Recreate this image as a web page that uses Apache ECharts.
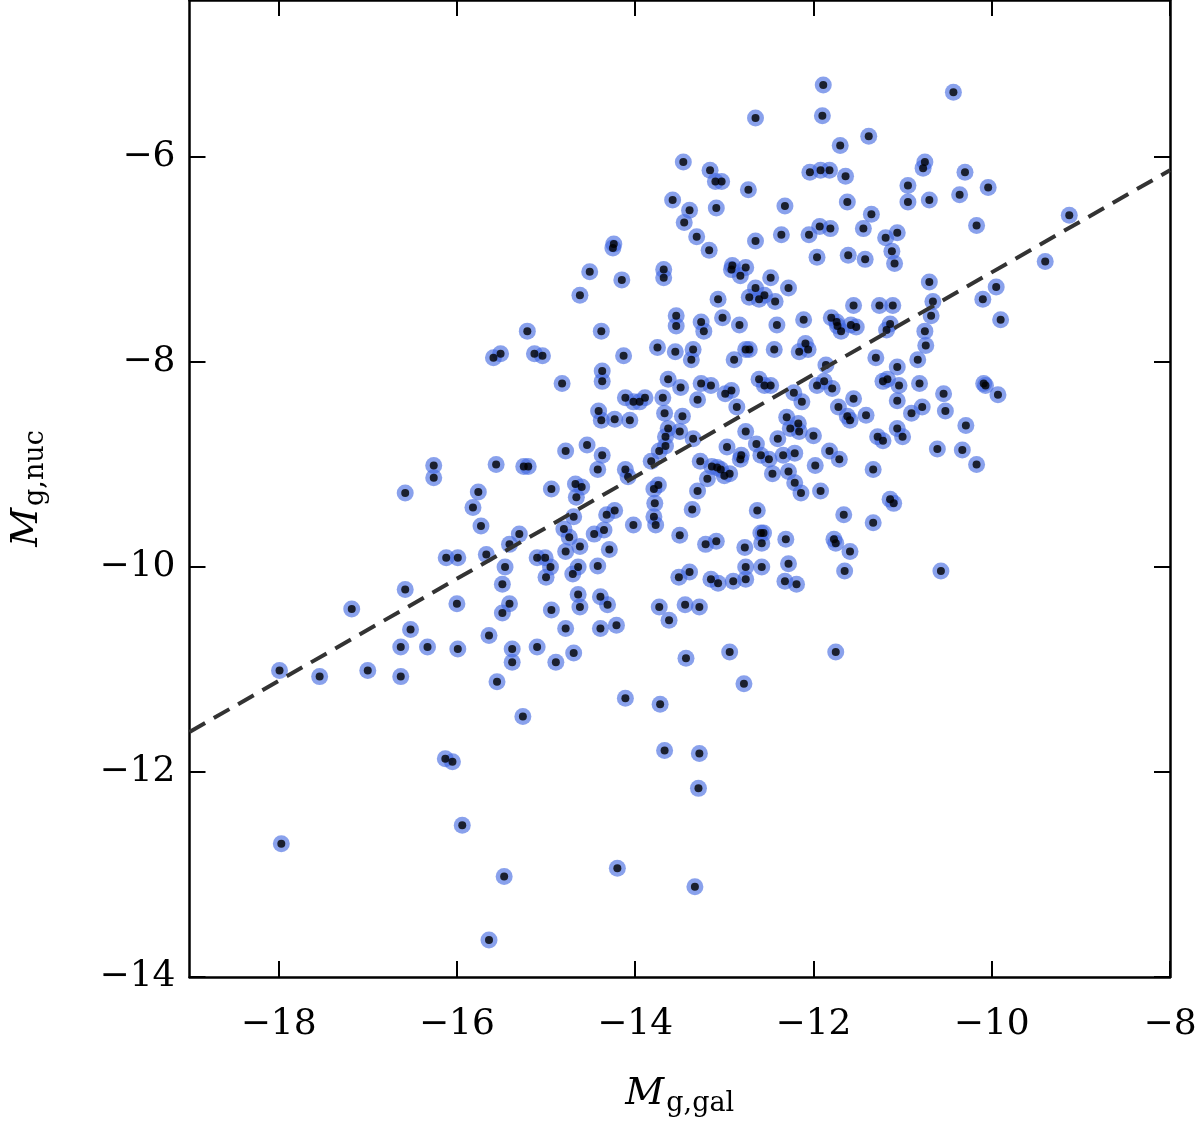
<!DOCTYPE html>
<html lang="en">
<head>
  <meta charset="UTF-8">
  <title>M_g,nuc vs M_g,gal</title>
  <script src="https://cdn.jsdelivr.net/npm/echarts@6/dist/echarts.min.js"></script>
  <style>
    html, body { margin: 0; padding: 0; background: #fff; }
    #chart { width: 1200px; height: 1122px; }
  </style>
</head>
<body>
  <div id="chart"></div>
  <script>
    // galaxy magnitude, nucleus magnitude
    var points = [
      [-17.97,-12.70],[-17.99,-11.01],[-17.54,-11.07],[-17.18,-10.41],[-17.0,-11.01],[-16.63,-11.07],
      [-16.63,-10.78],[-16.52,-10.61],[-16.58,-10.22],[-16.58,-9.28],[-16.33,-10.78],[-16.26,-9.01],
      [-16.26,-9.13],[-16.13,-11.87],[-16.05,-11.90],[-15.94,-12.52],[-16.12,-9.91],[-15.99,-9.91],
      [-16.0,-10.36],[-15.99,-10.80],[-15.64,-13.64],[-15.47,-13.02],[-15.82,-9.42],[-15.76,-9.27],
      [-15.73,-9.60],[-15.67,-9.88],[-15.64,-10.67],[-15.56,-9.0],[-15.55,-11.12],[-15.49,-10.45],
      [-15.49,-10.17],[-15.46,-10.0],[-15.41,-9.78],[-15.41,-10.36],[-15.38,-10.80],[-15.38,-10.93],
      [-15.59,-7.96],[-15.51,-7.92],[-15.26,-11.46],[-15.25,-9.02],[-15.2,-9.02],[-15.30,-9.68],
      [-15.1,-9.91],[-15.21,-7.70],[-15.13,-7.92],[-15.04,-7.94],[-15.1,-10.78],[-15.01,-9.91],
      [-15.0,-10.10],[-14.94,-9.24],[-14.95,-10.0],[-14.94,-10.42],[-14.89,-10.93],[-14.82,-8.21],
      [-14.8,-9.63],[-14.78,-8.87],[-14.74,-9.71],[-14.78,-10.6],[-14.69,-10.84],[-14.78,-9.85],
      [-14.70,-10.07],[-14.69,-9.51],[-14.66,-9.32],[-14.64,-10.0],[-14.64,-10.27],[-14.62,-10.39],
      [-14.6,-9.22],[-14.67,-9.19],[-14.62,-7.35],[-14.62,-9.80],[-14.54,-8.81],[-14.51,-7.12],
      [-14.46,-9.68],[-14.42,-9.05],[-14.41,-8.48],[-14.38,-7.70],[-14.37,-8.19],[-14.37,-8.09],
      [-14.42,-9.99],[-14.39,-10.29],[-14.39,-10.6],[-14.38,-8.57],[-14.37,-8.91],[-14.35,-9.64],
      [-14.32,-9.49],[-14.31,-10.37],[-14.29,-9.83],[-14.25,-6.89],[-14.24,-6.85],[-14.23,-9.45],
      [-14.23,-8.56],[-14.21,-10.57],[-14.2,-12.94],[-14.15,-7.2],[-14.13,-7.94],[-14.11,-8.35],
      [-14.11,-11.28],[-14.11,-9.05],[-14.08,-9.12],[-14.06,-8.57],[-14.02,-8.39],[-14.02,-9.59],
      [-13.95,-8.39],[-13.89,-8.35],[-13.82,-8.97],[-13.79,-9.24],[-13.78,-9.38],[-13.79,-9.51],
      [-13.77,-9.59],[-13.75,-7.86],[-13.74,-9.2],[-13.73,-8.87],[-13.73,-10.39],[-13.72,-11.34],
      [-13.69,-8.35],[-13.68,-7.18],[-13.68,-7.10],[-13.67,-11.79],[-13.67,-8.50],[-13.66,-8.73],
      [-13.66,-8.82],[-13.63,-8.65],[-13.63,-8.17],[-13.62,-10.52],[-13.58,-6.42],[-13.55,-7.90],
      [-13.54,-7.55],[-13.54,-7.65],[-13.51,-10.1],[-13.5,-8.68],[-13.5,-9.69],[-13.49,-8.25],
      [-13.47,-8.53],[-13.46,-6.05],[-13.45,-6.64],[-13.44,-10.37],[-13.43,-10.89],[-13.39,-10.05],
      [-13.39,-6.52],[-13.37,-7.98],[-13.36,-9.44],[-13.35,-7.88],[-13.35,-8.75],[-13.33,-13.12],
      [-13.31,-6.78],[-13.30,-9.26],[-13.30,-8.37],[-13.29,-12.16],[-13.28,-10.39],[-13.28,-11.82],
      [-13.27,-8.97],[-13.26,-8.21],[-13.26,-7.61],[-13.23,-7.70],[-13.21,-9.78],[-13.19,-9.14],
      [-13.17,-6.91],[-13.16,-6.13],[-13.15,-10.12],[-13.15,-8.23],[-13.14,-9.02],[-13.10,-6.24],
      [-13.09,-6.50],[-13.09,-9.75],[-13.08,-9.03],[-13.07,-10.16],[-13.07,-7.39],[-13.04,-9.05],
      [-13.03,-6.24],[-13.02,-7.57],[-13.0,-9.11],[-12.99,-8.31],[-12.97,-8.83],[-12.94,-9.09],
      [-12.94,-10.83],[-12.92,-8.28],[-12.92,-7.10],[-12.91,-7.06],[-12.90,-10.14],[-12.89,-7.98],
      [-12.86,-8.44],[-12.83,-7.64],[-12.82,-7.16],[-12.82,-8.95],[-12.81,-8.91],[-12.78,-11.14],
      [-12.77,-9.81],[-12.76,-10.0],[-12.76,-10.12],[-12.76,-7.08],[-12.76,-7.88],[-12.76,-8.68],
      [-12.73,-6.32],[-12.72,-7.37],[-12.72,-7.88],[-12.65,-6.82],[-12.65,-7.28],[-12.65,-5.62],
      [-12.64,-8.80],[-12.63,-9.45],[-12.61,-7.39],[-12.61,-8.17],[-12.59,-8.91],[-12.59,-9.67],
      [-12.58,-9.77],[-12.58,-10.0],[-12.56,-9.67],[-12.55,-7.35],[-12.55,-8.23],[-12.50,-8.95],
      [-12.48,-7.18],[-12.46,-9.09],[-12.48,-8.23],[-12.44,-7.88],[-12.43,-7.41],[-12.41,-7.64],
      [-12.40,-8.75],[-12.36,-6.76],[-12.34,-8.91],[-12.32,-6.48],[-12.32,-10.14],[-12.31,-9.73],
      [-12.30,-8.54],[-12.28,-7.28],[-12.28,-9.07],[-12.28,-9.97],[-12.26,-8.65],[-12.22,-8.30],
      [-12.21,-9.18],[-12.21,-8.89],[-12.19,-10.17],[-12.17,-8.60],[-12.16,-8.68],[-12.16,-7.90],
      [-12.14,-9.28],[-12.13,-8.39],[-12.11,-7.59],[-12.09,-7.82],[-12.06,-7.88],[-12.05,-6.76],
      [-12.04,-6.15],[-12.0,-8.72],[-11.98,-9.01],[-11.96,-6.98],[-11.96,-8.23],[-11.93,-6.68],
      [-11.92,-9.26],[-11.92,-6.13],[-11.90,-5.60],[-11.89,-5.30],[-11.88,-8.19],[-11.86,-8.03],
      [-11.82,-6.13],[-11.82,-8.87],[-11.81,-6.70],[-11.80,-7.57],[-11.79,-8.26],[-11.77,-9.73],
      [-11.75,-9.77],[-11.75,-10.83],[-11.74,-7.61],[-11.73,-7.65],[-11.72,-8.44],[-11.71,-8.95],
      [-11.70,-5.89],[-11.69,-7.70],[-11.66,-9.49],[-11.65,-10.04],[-11.64,-6.19],[-11.62,-8.53],
      [-11.62,-6.44],[-11.61,-6.96],[-11.59,-9.85],[-11.59,-8.57],[-11.58,-7.64],[-11.55,-8.36],
      [-11.55,-7.45],[-11.52,-7.66],[-11.44,-6.70],[-11.42,-7.0],[-11.41,-8.52],[-11.38,-5.80],
      [-11.35,-6.56],[-11.33,-9.57],[-11.33,-9.05],[-11.30,-7.96],[-11.28,-8.73],[-11.26,-7.45],
      [-11.22,-8.19],[-11.22,-8.77],[-11.19,-6.79],[-11.18,-7.69],[-11.17,-8.17],[-11.14,-7.63],
      [-11.14,-9.34],[-11.12,-6.92],[-11.11,-7.45],[-11.10,-9.38],[-11.09,-7.04],[-11.06,-6.74],
      [-11.06,-8.05],[-11.06,-8.38],[-11.06,-8.65],[-11.04,-8.23],[-11.0,-8.73],[-10.94,-6.44],
      [-10.94,-6.28],[-10.90,-8.50],[-10.83,-7.98],[-10.81,-8.21],[-10.78,-8.44],[-10.77,-6.11],
      [-10.75,-6.05],[-10.75,-7.70],[-10.74,-7.84],[-10.70,-6.42],[-10.70,-7.22],[-10.68,-7.55],
      [-10.66,-7.41],[-10.61,-8.85],[-10.57,-10.04],[-10.54,-8.31],[-10.52,-8.48],[-10.43,-5.37],
      [-10.36,-6.37],[-10.33,-8.86],[-10.30,-6.15],[-10.29,-8.62],[-10.17,-6.67],[-10.17,-9.00],
      [-10.10,-7.39],[-10.09,-8.21],[-10.07,-8.23],[-10.04,-6.30],[-9.95,-7.27],[-9.93,-8.32],
      [-9.90,-7.59],[-9.4,-7.02],[-9.13,-6.57]
    ];
    var fitX = [-19, -8];
    var fitY = [-11.61, -6.13];
    var xTicks = [-18, -16, -14, -12, -10, -8];
    var yTicks = [-14, -12, -10, -8, -6];

    var chart = echarts.init(document.getElementById('chart'));
    var serif = '"DejaVu Serif", "Liberation Serif", serif';
    var minus = function (v) { return String(v).replace('-', '\u2212'); };

    var baseAxis = {
      type: 'value',
      axisLine: { show: true, onZero: false, lineStyle: { color: '#000', width: 2.5 } },
      axisTick: { show: true, inside: true, length: 16, lineStyle: { color: '#000', width: 2 } },
      splitLine: { show: false }
    };

    var option = {
      animation: false,
      grid: { left: 185, right: 30, top: 0, bottom: 142 },
      xAxis: [
        Object.assign({}, baseAxis, {
          min: -19, max: -8, position: 'bottom',
          axisTick: Object.assign({}, baseAxis.axisTick, { customValues: xTicks }),
          axisLabel: { customValues: xTicks, formatter: minus, margin: 30, color: '#000', fontSize: 36, fontFamily: serif },
          name: '{i|M}{s|g,gal}', nameLocation: 'middle', nameGap: 95,
          nameTextStyle: { rich: {
            i: { fontSize: 38, fontStyle: 'italic', fontFamily: serif, color: '#000' },
            s: { fontSize: 27, fontFamily: serif, color: '#000', verticalAlign: 'bottom', padding: [18, 0, 0, 2] }
          } }
        }),
        Object.assign({}, baseAxis, {
          min: -19, max: -8, position: 'top',
          axisTick: Object.assign({}, baseAxis.axisTick, { customValues: xTicks }),
          axisLabel: { show: false }
        })
      ],
      yAxis: [
        Object.assign({}, baseAxis, {
          min: -14, max: -4.47, position: 'left',
          axisTick: Object.assign({}, baseAxis.axisTick, { customValues: yTicks }),
          axisLabel: { customValues: yTicks, formatter: minus, margin: 14, color: '#000', fontSize: 36, fontFamily: serif },
          name: '{i|M}{s|g,nuc}', nameLocation: 'middle', nameGap: 140, nameRotate: 90,
          nameTextStyle: { rich: {
            i: { fontSize: 38, fontStyle: 'italic', fontFamily: serif, color: '#000' },
            s: { fontSize: 27, fontFamily: serif, color: '#000', verticalAlign: 'bottom', padding: [18, 0, 0, 2] }
          } }
        }),
        Object.assign({}, baseAxis, {
          min: -14, max: -4.47, position: 'right',
          axisTick: Object.assign({}, baseAxis.axisTick, { customValues: yTicks }),
          axisLabel: { show: false }
        })
      ],
      series: [
        {
          type: 'scatter', data: points, symbolSize: 17,
          itemStyle: { color: 'rgba(65,105,225,0.78)' }
        },
        {
          type: 'scatter', data: points, symbolSize: 8,
          itemStyle: { color: '#000' }
        },
        {
          type: 'line', data: fitX.map(function (x, i) { return [x, fitY[i]]; }),
          symbol: 'none', z: 5,
          lineStyle: { color: '#333', width: 4, type: [18, 10] }
        }
      ]
    };
    chart.setOption(option);
  </script>
</body>
</html>
